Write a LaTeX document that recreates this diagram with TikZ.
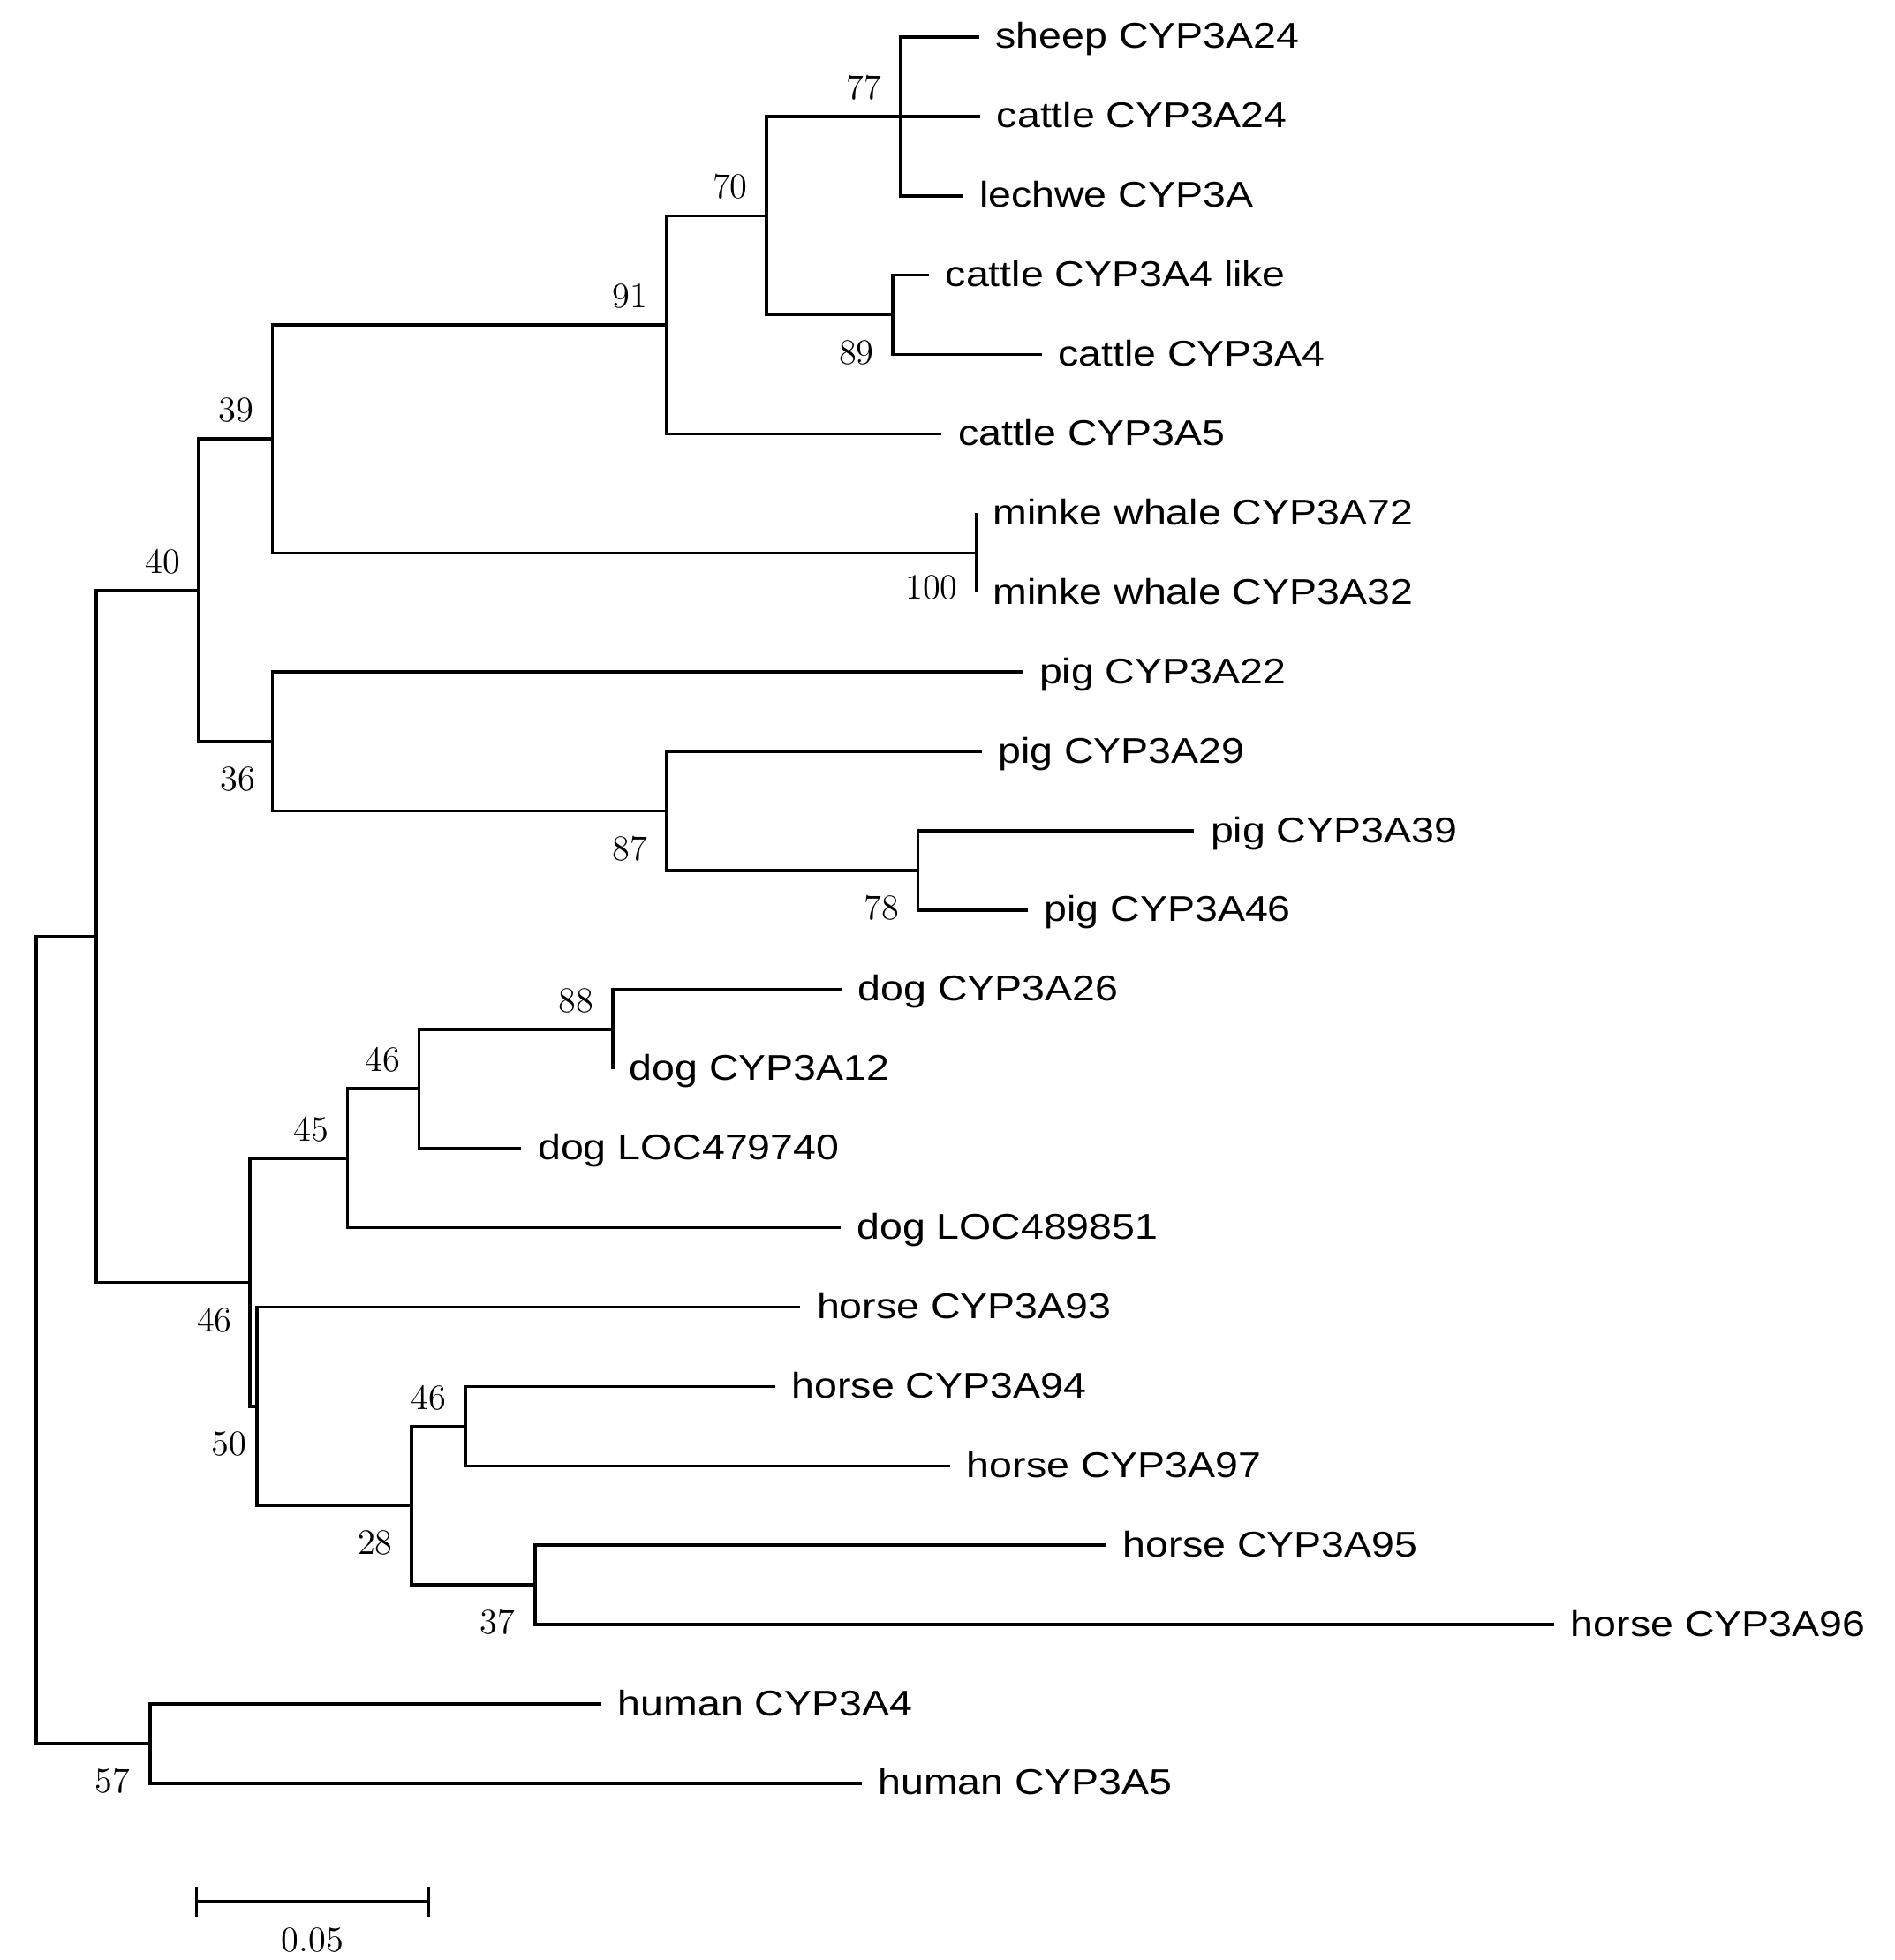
\documentclass[tikz,border=0pt]{standalone}
\usepackage{fontspec}
\newfontfamily\labfont[FakeStretch=1.15]{Liberation Sans}
\begin{document}
\begin{tikzpicture}[x=0.014158cm, y=-0.89903cm, line width=1pt,
  leaflab/.style={anchor=base west, inner sep=0, xshift=0.17cm, yshift=-0.13cm, font=\labfont\fontsize{11.5}{13}\selectfont},
  boot/.style={inner sep=0, font=\fontsize{11.5}{13}\selectfont}]
\useasboundingbox (0,-0.4672) rectangle (1515,24.2257);
% internal nodes
\coordinate (T) at (29,16.4140625);
\coordinate (S) at (77,11.328125);
\coordinate (J) at (159,6.96875);
\coordinate (F) at (218,5.0625);
\coordinate (D) at (533,3.625);
\coordinate (C) at (613,2.25);
\coordinate (A) at (720,1);
\coordinate (B) at (714,3.5);
\coordinate (E) at (781,6.5);
\coordinate (I) at (218,8.875);
\coordinate (H) at (533,9.75);
\coordinate (G) at (734,10.5);
\coordinate (R) at (200,15.6875);
\coordinate (M) at (278,14.125);
\coordinate (L) at (335,13.25);
\coordinate (K) at (490,12.5);
\coordinate (Q) at (205.5,17.25);
\coordinate (P) at (329,18.5);
\coordinate (N) at (372,17.5);
\coordinate (O) at (428,19.5);
\coordinate (U) at (120,21.5);
% leaf ends
\coordinate (e0) at (783,0);
\coordinate (e1) at (784,1);
\coordinate (e2) at (770,2);
\coordinate (e3) at (743,3);
\coordinate (e4) at (833,4);
\coordinate (e5) at (753,5);
\coordinate (e6) at (781,6);
\coordinate (e7) at (781,7);
\coordinate (e8) at (818,8);
\coordinate (e9) at (785,9);
\coordinate (e10) at (955,10);
\coordinate (e11) at (822,11);
\coordinate (e12) at (673,12);
\coordinate (e13) at (490,13);
\coordinate (e14) at (417,14);
\coordinate (e15) at (672,15);
\coordinate (e16) at (640,16);
\coordinate (e17) at (620,17);
\coordinate (e18) at (760,18);
\coordinate (e19) at (885,19);
\coordinate (e20) at (1243,20);
\coordinate (e21) at (481,21);
\coordinate (e22) at (689,22);
% branches
\draw (T) |- (S); \draw (T) |- (U);
\draw (S) |- (J); \draw (S) |- (R);
\draw (J) |- (F); \draw (J) |- (I);
\draw (F) |- (D); \draw (F) |- (E);
\draw (D) |- (C); \draw (D) |- (e5);
\draw (C) |- (A); \draw (C) |- (B);
\draw (A) |- (e0); \draw (A) |- (e1); \draw (A) |- (e2);
\draw (B) |- (e3); \draw (B) |- (e4);
\draw (E) |- (e6); \draw (E) |- (e7);
\draw (I) |- (e8); \draw (I) |- (H);
\draw (H) |- (e9); \draw (H) |- (G);
\draw (G) |- (e10); \draw (G) |- (e11);
\draw (R) |- (M); \draw (R) |- (Q);
\draw (M) |- (L); \draw (M) |- (e15);
\draw (L) |- (K); \draw (L) |- (e14);
\draw (K) |- (e12); \draw (K) |- (e13);
\draw (Q) |- (e16); \draw (Q) |- (P);
\draw (P) |- (N); \draw (P) |- (O);
\draw (N) |- (e17); \draw (N) |- (e18);
\draw (O) |- (e19); \draw (O) |- (e20);
\draw (U) |- (e21); \draw (U) |- (e22);
% leaf labels
\node[leaflab] (n0) at (e0) {sheep CYP3A24};
\node[leaflab] (n1) at (e1) {cattle CYP3A24};
\node[leaflab] (n2) at (e2) {lechwe CYP3A};
\node[leaflab] (n3) at (e3) {cattle CYP3A4 like};
\node[leaflab] (n4) at (e4) {cattle CYP3A4};
\node[leaflab] (n5) at (e5) {cattle CYP3A5};
\node[leaflab] (n6) at (e6) {minke whale CYP3A72};
\node[leaflab] (n7) at (e7) {minke whale CYP3A32};
\node[leaflab] (n8) at (e8) {pig CYP3A22};
\node[leaflab] (n9) at (e9) {pig CYP3A29};
\node[leaflab] (n10) at (e10) {pig CYP3A39};
\node[leaflab] (n11) at (e11) {pig CYP3A46};
\node[leaflab] (n12) at (e12) {dog CYP3A26};
\node[leaflab] (n13) at (e13) {dog CYP3A12};
\node[leaflab] (n14) at (e14) {dog LOC479740};
\node[leaflab] (n15) at (e15) {dog LOC489851};
\node[leaflab] (n16) at (e16) {horse CYP3A93};
\node[leaflab] (n17) at (e17) {horse CYP3A94};
\node[leaflab] (n18) at (e18) {horse CYP3A97};
\node[leaflab] (n19) at (e19) {horse CYP3A95};
\node[leaflab] (n20) at (e20) {horse CYP3A96};
\node[leaflab] (n21) at (e21) {human CYP3A4};
\node[leaflab] (n22) at (e22) {human CYP3A5};
% bootstrap values
\node[boot] (bA) at (691,0.638) {77};
\node[boot] (bC) at (584,1.888) {70};
\node[boot] (bD) at (504,3.263) {91};
\node[boot] (bB) at (685,3.972) {89};
\node[boot] (bF) at (189,4.700) {39};
\node[boot] (bE) at (745,6.94) {100};
\node[boot] (bJ) at (130,6.607) {40};
\node[boot] (bI) at (190,9.347) {36};
\node[boot] (bH) at (504,10.222) {87};
\node[boot] (bG) at (705,10.972) {78};
\node[boot] (bK) at (461,12.138) {88};
\node[boot] (bL) at (306,12.888) {46};
\node[boot] (bM) at (249,13.763) {45};
\node[boot] (bR) at (171.5,16.16) {46};
\node[boot] (bQ) at (183,17.722) {50};
\node[boot] (bN) at (343,17.138) {46};
\node[boot] (bP) at (300,18.972) {28};
\node[boot] (bO) at (398,19.972) {37};
\node[boot] (bU) at (90,21.972) {57};
% scale bar
\coordinate (sb1) at (157,23.494);
\coordinate (sb2) at (343,23.494);
\draw (sb1) -- (sb2);
\draw ([yshift=0.17cm]sb1) -- ([yshift=-0.17cm]sb1);
\draw ([yshift=0.17cm]sb2) -- ([yshift=-0.17cm]sb2);
\node[boot] (sbl) at (250,23.97) {0.05};
\end{tikzpicture}
\end{document}
